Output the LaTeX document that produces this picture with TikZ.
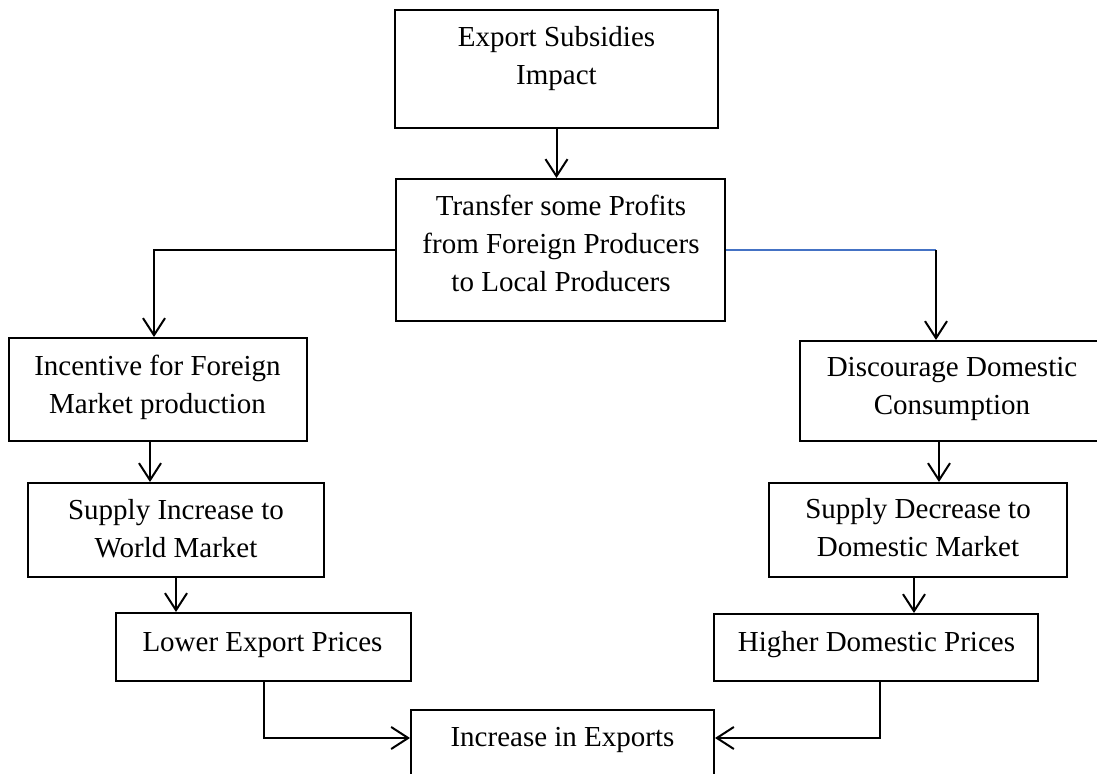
\documentclass[tikz,border=0pt]{standalone}
\usepackage{fontspec}
\setmainfont{Liberation Serif}
\usetikzlibrary{arrows.meta}
\definecolor{lineblue}{RGB}{68,114,196}
\tikzset{
  box/.style={draw, line width=1pt, rectangle, inner sep=0pt},
  txt/.style={align=center, inner sep=0pt, font=\fontsize{14.5pt}{19pt}\selectfont},
  ln/.style={line width=1pt},
  arr/.style={line width=1pt, -{Straight Barb[length=8.5pt,width=11pt,line width=1pt]}},
}
\begin{document}
\begin{tikzpicture}[x=0.5pt, y=-0.5pt]
\useasboundingbox (0,0) rectangle (1097,774);
% boxes
\node[box, minimum width=323*0.5pt, minimum height=118*0.5pt] (top) at (556.5,69) {};
\node[box, minimum width=329*0.5pt, minimum height=142*0.5pt] (transfer) at (560.5,250) {};
\node[box, minimum width=298*0.5pt, minimum height=103*0.5pt] (incent) at (158,389.5) {};
\node[box, minimum width=296*0.5pt, minimum height=94*0.5pt] (supinc) at (176,530) {};
\node[box, minimum width=295*0.5pt, minimum height=68*0.5pt] (lower) at (263.5,647) {};
\node[box, minimum width=304*0.5pt, minimum height=100*0.5pt] (discour) at (952,391) {};
\node[box, minimum width=298*0.5pt, minimum height=94*0.5pt] (supdec) at (918,530) {};
\node[box, minimum width=324*0.5pt, minimum height=67*0.5pt] (higher) at (876,647.5) {};
\node[box, minimum width=303*0.5pt, minimum height=90*0.5pt] (incr) at (562.5,755) {};
% texts
\node[txt] (toptxt) at (556.5,59) {Export Subsidies\\Impact};
\node[txt] (transfertxt) at (561,243) {Transfer some Profits\\from Foreign Producers\\to Local Producers};
\node[txt] (incenttxt) at (157.5,387) {Incentive for Foreign\\Market production};
\node[txt] (supinctxt) at (176,529) {Supply Increase to\\World Market};
\node[txt] (lowertxt) at (262.5,645) {Lower Export Prices};
\node[txt] (discourtxt) at (952,389) {Discourage Domestic\\Consumption};
\node[txt] (supdectxt) at (918,528) {Supply Decrease to\\Domestic Market};
\node[txt] (highertxt) at (876.5,645) {Higher Domestic Prices};
\node[txt] (incrtxt) at (562.5,740) {Increase in Exports};
% connectors
\coordinate (rc) at (936,250);
\draw[arr] (top.south) -- (top.south |- transfer.north);
\draw[arr] (transfer.west) -| ([xshift=-2pt]incent.north);
\draw[ln, lineblue, line width=0.8pt] (transfer.east) -- (rc);
\draw[arr] (rc) -- (rc |- discour.north);
\draw[arr] ([xshift=-4pt]incent.south) -- ([xshift=-4pt]incent.south |- supinc.north);
\draw[arr] (supinc.south) -- (supinc.south |- lower.north);
\draw[arr] ([xshift=-6.5pt]discour.south) -- ([xshift=-6.5pt]discour.south |- supdec.north);
\draw[arr] ([xshift=-2pt]supdec.south) -- ([xshift=-2pt]supdec.south |- higher.north);
\draw[arr] (lower.south) |- ([yshift=8.5pt]incr.west);
\draw[arr] ([xshift=2pt]higher.south) |- ([yshift=8.5pt]incr.east);
\end{tikzpicture}
\end{document}
